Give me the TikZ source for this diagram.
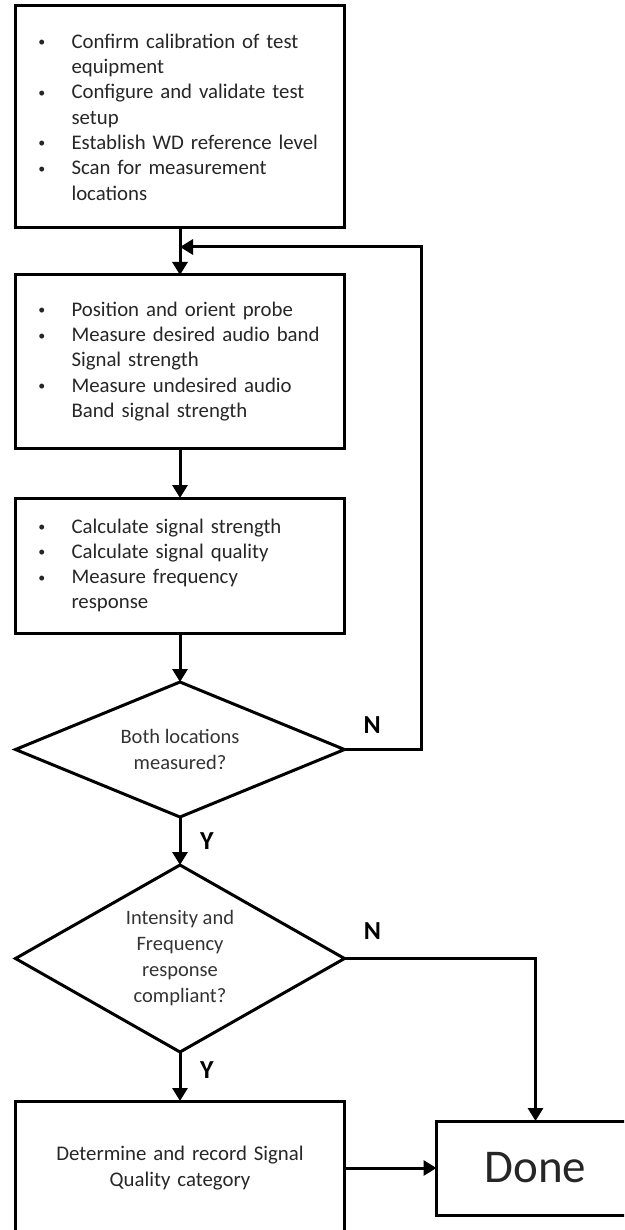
\documentclass[tikz,border=0pt]{standalone}
\usepackage{fontspec}
\setmainfont{Carlito}
\usetikzlibrary{arrows.meta, positioning, shapes.geometric}

\newcommand{\bul}[1]{\mbox{\makebox[34pt][l]{\hspace{1pt}\raisebox{1.5pt}{\fontsize{14}{14}\selectfont\textbullet}}#1}}
\newcommand{\cont}[1]{\mbox{\hspace*{34pt}#1}}

\begin{document}
\begin{tikzpicture}[x=1pt, y=1pt, line width=3pt,
    >={Triangle[length=13pt, width=15pt]},
    box/.style={draw, rectangle, minimum width=329pt, text width=285pt,
        inner xsep=22pt, inner ysep=0pt, outer sep=0pt, align=left,
        text=black!85, font=\fontsize{20.8}{25.3}\selectfont},
    decision/.style={draw, diamond, minimum width=329pt, inner sep=0pt,
        outer sep=0pt, align=center, text=black!80,
        font=\fontsize{20.5}{26}\selectfont},
    yn/.style={font=\fontsize{26}{26}\selectfont\bfseries, inner sep=0pt}]

    \useasboundingbox (0,0) rectangle (624,-1230);
    \clip (0,0) rectangle (624,-1230);

    \node (prep) [box, minimum height=222pt] at (180,-117) {%
        \bul{Confirm calibration of test}\\
        \cont{equipment}\\
        \bul{Configure and validate test}\\
        \cont{setup}\\
        \bul{Establish WD reference level}\\
        \bul{Scan for measurement}\\
        \cont{locations}};
    \node (meas) [box, minimum height=173pt, below=47pt of prep] {%
        \bul{Position and orient probe}\\
        \bul{Measure desired audio band}\\
        \cont{Signal strength}\\
        \bul{Measure undesired audio}\\
        \cont{Band signal strength}};
    \node (calc) [box, minimum height=135pt, below=50pt of meas] {%
        \bul{Calculate signal strength}\\
        \bul{Calculate signal quality}\\
        \bul{Measure frequency}\\
        \cont{response}};
    \node (both) [decision, minimum height=135pt, aspect=2.4, below=49pt of calc]
        {Both locations\\measured?};
    \node (comp) [decision, minimum height=187pt, aspect=1.76, below=48pt of both]
        {Intensity and\\Frequency\\response\\compliant?};
    \node (rec) [box, minimum height=134pt, align=center, below=49pt of comp]
        {Determine and record Signal\\Quality category};
    \node (done) [draw, minimum width=198pt, minimum height=94pt, outer sep=0pt,
        text=black!85, font=\fontsize{47}{47}\selectfont, right=92pt of rec] {Done};
    \coordinate (join) at (180,-247);

    % Main flow
    \draw[->] (prep) -- (meas);
    \draw[->] (meas) -- (calc);
    \draw[->] (calc) -- (both);
    \draw[->] (both) -- node[yn, xshift=27pt]{Y} (comp);
    \draw[->] (comp) -- node[yn, xshift=27pt, yshift=6pt]{Y} (rec);
    \draw[->] (rec) -- (done);

    % Loop back and exit
    \draw[->] (both.east) -- ++(77,0) node[yn, pos=.36, yshift=24pt]{N} |- (join);
    \draw[->] (comp.east) -| node[yn, pos=.073, yshift=27pt]{N} (done.north);
\end{tikzpicture}
\end{document}
